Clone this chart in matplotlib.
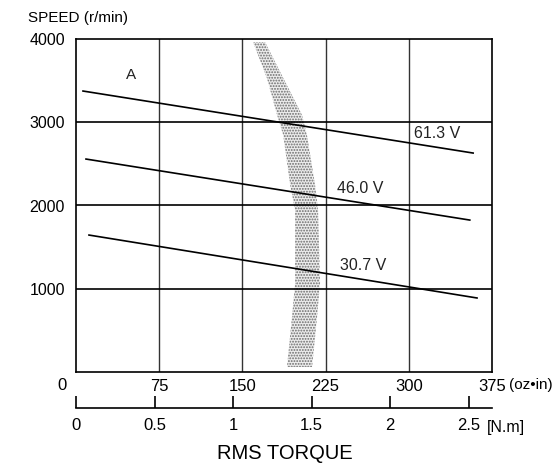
import matplotlib.pyplot as plt
import matplotlib as mpl

mpl.rcParams.update({
    'font.family': ['Liberation Sans', 'DejaVu Sans'],
    'font.size': 10,
    'hatch.linewidth': 0.9,
})

# oz-in ticks and N.m ticks
oz_ticks = [75, 150, 225, 300, 375]
nm_ticks = [0, 0.5, 1, 1.5, 2, 2.5]
speed_ticks = [1000, 2000, 3000, 4000]
OZIN_PER_NM = 141.6

# speed-torque lines (torque oz-in, speed r/min)
volt_labels = ['61.3 V', '46.0 V', '30.7 V']
line_torque = [[6.3, 358], [9, 355], [11.7, 361.5]]
line_speed = [[3375, 2630], [2558, 1825], [1645, 889]]
label_pos = [(305, 2870), (235, 2210), (238, 1285)]

# stippled band (continuous rating zone)
band_speed = [3963, 3531, 3087, 2846, 2246, 1946, 1069, 661, 60]
band_left = [159.6, 172.1, 181.3, 186.8, 193.1, 197.5, 197.5, 194.7, 190.2]
band_right = [170.4, 186.8, 203.7, 208.2, 215.5, 218.2, 220.0, 217.3, 212.8]

fig = plt.figure(figsize=(5.56, 4.65), dpi=100)
ax = fig.add_axes([76 / 556, 93 / 465, 416 / 556, 333 / 465])

ax.set_xlim(0, 375)
ax.set_ylim(0, 4000)

ax.fill_betweenx(band_speed, band_left, band_right, facecolor='#ececec',
                 hatch='......', edgecolor='#6a6a6a', linewidth=0, zorder=1)

for x in oz_ticks[:-1]:
    ax.axvline(x, color='#333333', lw=1.0, zorder=2)
for y in speed_ticks[:-1]:
    ax.axhline(y, color='black', lw=1.2, zorder=2)

for t, s in zip(line_torque, line_speed):
    ax.plot(t, s, color='black', lw=1.2, zorder=3)
for lab, (x, y) in zip(volt_labels, label_pos):
    ax.text(x, y, lab, fontsize=11.5, ha='left', va='center', color='#222222')
ax.text(49.6, 3567, 'A', fontsize=11, ha='center', va='center', color='#222222')

for sp in ax.spines.values():
    sp.set_linewidth(1.2)

ax.set_yticks(speed_ticks)
ax.set_yticklabels([str(v) for v in speed_ticks], fontsize=11.5)
ax.set_xticks(oz_ticks)
ax.set_xticklabels([str(v) for v in oz_ticks], fontsize=12)
ax.tick_params(axis='both', length=0)
ax.tick_params(axis='y', pad=8)
ax.tick_params(axis='x', pad=5)

ax.text(-12.6, -160, '0', fontsize=12, ha='center', va='center')
ax.annotate('(oz•in)', xy=(375, 0), xytext=(12.5, -9.5), textcoords='offset points',
            ha='left', va='center', fontsize=11)
fig.text(28 / 556, 1 - 18 / 465, 'SPEED (r/min)', fontsize=11, ha='left', va='center')

sec = ax.secondary_xaxis(-36 / 333, functions=(lambda x: x / OZIN_PER_NM,
                                               lambda x: x * OZIN_PER_NM))
sec.set_xticks(nm_ticks)
sec.set_xticklabels(['0', '0.5', '1', '1.5', '2', '2.5'], fontsize=12)
sec.tick_params(direction='in', length=9, width=1.2, pad=7)
sec.spines['bottom'].set_linewidth(1.2)
ax.annotate('[N.m]', xy=(2.5 * OZIN_PER_NM, 0), xytext=(13, -40),
            textcoords='offset points', ha='left', va='center', fontsize=11.5)

fig.text(285 / 556, 1 - 453 / 465, 'RMS TORQUE', fontsize=14.5, ha='center', va='center')

fig.savefig('out.png', dpi=100)
